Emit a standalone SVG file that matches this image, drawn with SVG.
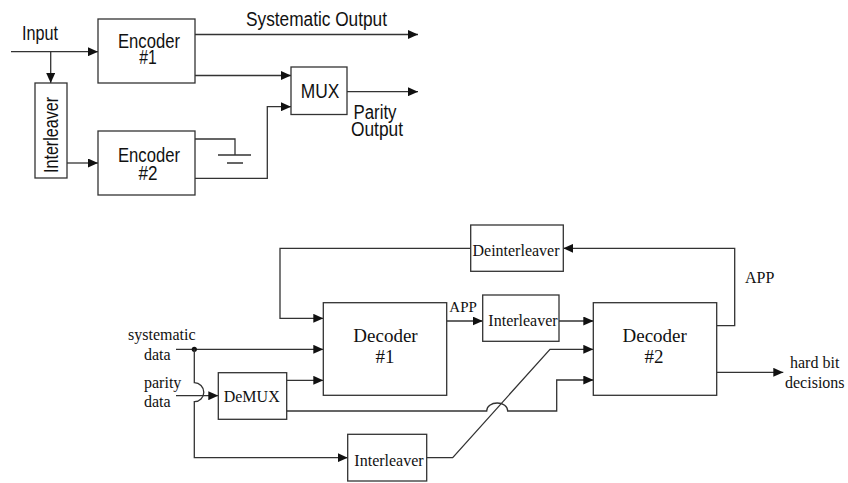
<svg xmlns="http://www.w3.org/2000/svg" width="848" height="483" viewBox="0 0 848 483">
<defs>
<style>
.box{fill:#fff;stroke:#333;stroke-width:1.3}
.ln{fill:none;stroke:#333;stroke-width:1.3}
.sans{font-family:"Liberation Sans",Arial,sans-serif;font-size:20px;fill:#111}
.serif{font-family:"Liberation Serif","Times New Roman",serif;fill:#111}
.s19{font-size:19px}
.s16{font-size:16px}
.s15{font-size:15px}
.mid{text-anchor:middle}
</style>
<marker id="ah" markerUnits="userSpaceOnUse" markerWidth="10" markerHeight="9" refX="10" refY="4.5" orient="auto">
<path d="M0,0 L10,4.5 L0,9 z" fill="#111"/>
</marker>
</defs>
<rect width="848" height="483" fill="#fff"/>

<g id="connectors">
<path class="ln" d="M11,51.7 H98" marker-end="url(#ah)"/>
<path class="ln" d="M50.7,51.7 V83" marker-end="url(#ah)"/>
<path class="ln" d="M67,163 H98" marker-end="url(#ah)"/>
<path class="ln" d="M195,34.5 H418" marker-end="url(#ah)"/>
<path class="ln" d="M195,75.5 H291" marker-end="url(#ah)"/>
<path class="ln" d="M347,91.7 H418" marker-end="url(#ah)"/>
<path class="ln" d="M195,178.3 H267.3 V106.7 H291" marker-end="url(#ah)"/>
<path class="ln" d="M195,139 H235 V155 M218,155 H251 M227,163 H243"/>

<path class="ln" d="M470.7,248.3 H280 V318.3 H323.3" marker-end="url(#ah)"/>
<path class="ln" d="M716.7,325.7 H734.7 V248.3 H563.3" marker-end="url(#ah)"/>
<path class="ln" d="M446.7,321 H482.7" marker-end="url(#ah)"/>
<path class="ln" d="M559,321 H593.3" marker-end="url(#ah)"/>
<path class="ln" d="M176,349.3 H323.3" marker-end="url(#ah)"/>
<circle cx="194.3" cy="349.3" r="2.6" fill="#111"/>
<path class="ln" d="M194.3,349.3 V382.7 A9.5,9.5 0 0 1 194.3,401.7 V457.7 H347.7" marker-end="url(#ah)"/>
<path class="ln" d="M176,395.7 H218.3" marker-end="url(#ah)"/>
<path class="ln" d="M286.7,380.3 H323.3" marker-end="url(#ah)"/>
<path class="ln" d="M286.7,411 H486.7 A10.5,8 0 0 1 507.7,411 H556.7 V380 H593.3" marker-end="url(#ah)"/>
<path class="ln" d="M426.7,457.7 H452.7 L550,349.3 H593.3" marker-end="url(#ah)"/>
<path class="ln" d="M716.7,372.3 H783.3" marker-end="url(#ah)"/>
</g>

<g id="labels">
<text class="sans mid" x="40" y="40" textLength="36" lengthAdjust="spacingAndGlyphs">Input</text>
<text class="sans mid" x="316.5" y="26" textLength="141" lengthAdjust="spacingAndGlyphs">Systematic Output</text>
<text class="sans mid" x="375" y="118.5" textLength="43" lengthAdjust="spacingAndGlyphs">Parity</text>
<text class="sans mid" x="377" y="135.5" textLength="52" lengthAdjust="spacingAndGlyphs">Output</text>
<text class="serif s15" x="449.3" y="311.7">APP</text>
<text class="serif s16" x="745" y="283.3">APP</text>
<text class="serif s16" x="128" y="340">systematic</text>
<text class="serif s16" x="144" y="360">data</text>
<text class="serif s16" x="144" y="388">parity</text>
<text class="serif s16" x="144" y="407.3">data</text>
<text class="serif s16" x="790" y="368.3">hard bit</text>
<text class="serif s16" x="785" y="388.3">decisions</text>
</g>

<g id="encoder1">
<rect class="box" x="98" y="19" width="97" height="64"/>
<text class="sans mid" x="149" y="47.7" textLength="62" lengthAdjust="spacingAndGlyphs">Encoder</text>
<text class="sans mid" x="148" y="64.3" textLength="17.5" lengthAdjust="spacingAndGlyphs">#1</text>
</g>
<g id="encoder2">
<rect class="box" x="98" y="131" width="97" height="64"/>
<text class="sans mid" x="149" y="161.7" textLength="62" lengthAdjust="spacingAndGlyphs">Encoder</text>
<text class="sans mid" x="148" y="179.5" textLength="19" lengthAdjust="spacingAndGlyphs">#2</text>
</g>
<g id="interleaver-enc">
<rect class="box" x="35" y="83" width="32" height="95"/>
<text class="sans mid" transform="translate(58,135) rotate(-90)" x="0" y="0" textLength="76" lengthAdjust="spacingAndGlyphs">Interleaver</text>
</g>
<g id="mux">
<rect class="box" x="291" y="67" width="56" height="47.5"/>
<text class="sans mid" x="320" y="97.7" textLength="38.6" lengthAdjust="spacingAndGlyphs">MUX</text>
</g>

<g id="decoder1">
<rect class="box" x="323.3" y="302.7" width="123.4" height="92.6"/>
<text class="serif s19 mid" x="385.5" y="341.7">Decoder</text>
<text class="serif s19 mid" x="385" y="363">#1</text>
</g>
<g id="decoder2">
<rect class="box" x="593.3" y="302.7" width="123.4" height="92.6"/>
<text class="serif s19 mid" x="654.7" y="341.7">Decoder</text>
<text class="serif s19 mid" x="654" y="363">#2</text>
</g>
<g id="deinterleaver">
<rect class="box" x="470.7" y="225" width="92.6" height="46.3"/>
<text class="serif s16 mid" x="516" y="256">Deinterleaver</text>
</g>
<g id="interleaver-top">
<rect class="box" x="482.7" y="295" width="76.3" height="46.3"/>
<text class="serif s16 mid" x="523" y="326">Interleaver</text>
</g>
<g id="interleaver-bottom">
<rect class="box" x="347.7" y="434.3" width="79" height="46.7"/>
<text class="serif s16 mid" x="389" y="465.5">Interleaver</text>
</g>
<g id="demux">
<rect class="box" x="218.3" y="372.7" width="68.4" height="46.6"/>
<text class="serif s16 mid" x="251.7" y="402.3">DeMUX</text>
</g>
</svg>
